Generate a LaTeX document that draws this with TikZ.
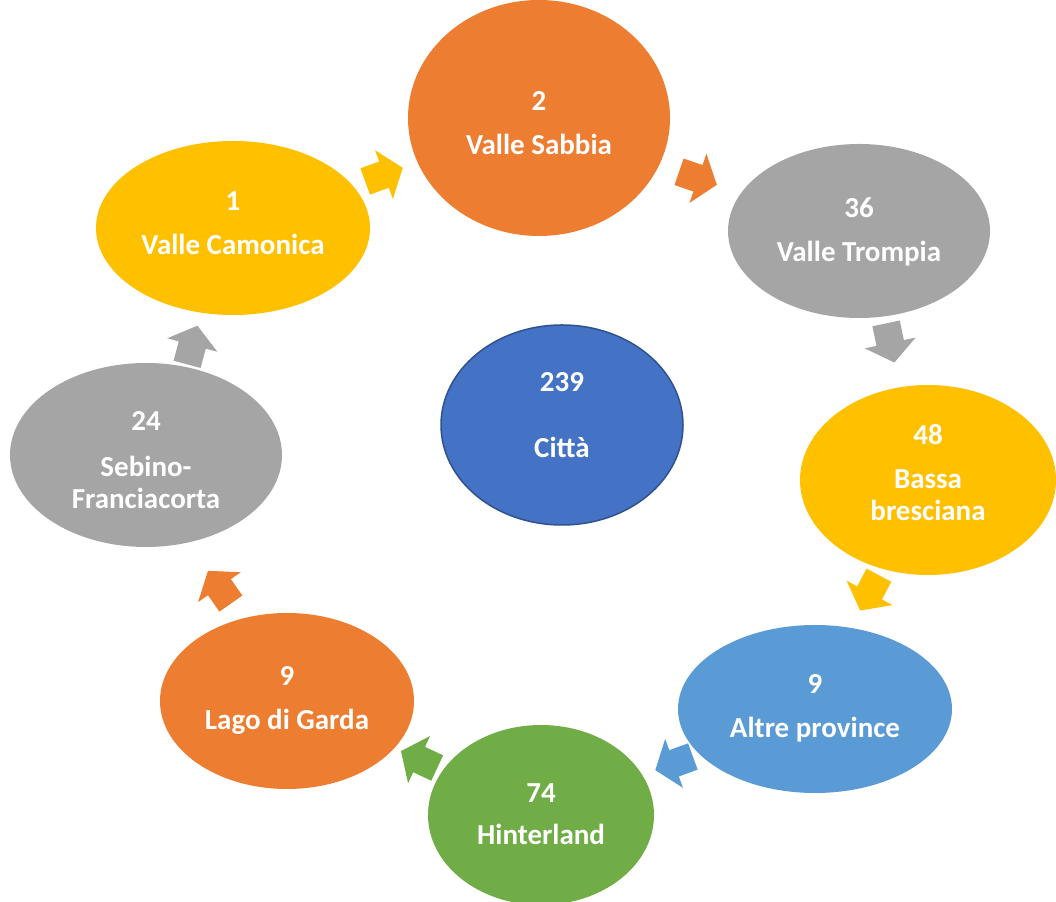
\documentclass[tikz,border=0pt]{standalone}
\usepackage{fontspec}
\setmainfont{Carlito}
\usetikzlibrary{shapes.geometric}
\definecolor{cOrange}{HTML}{ED7D31}
\definecolor{cYellow}{HTML}{FFC000}
\definecolor{cGray}{HTML}{A5A5A5}
\definecolor{cBlue}{HTML}{4472C4}
\definecolor{cBlueEdge}{HTML}{2F528F}
\definecolor{cLight}{HTML}{5B9BD5}
\definecolor{cGreen}{HTML}{70AD47}
\tikzset{
  bubble/.style={ellipse, inner sep=0pt},
  btext/.style={inner sep=0pt, text=white, font=\bfseries\fontsize{29}{32}\selectfont, align=center},
  blockarrow/.pic={\fill (-19,-14) -- (1,-14) -- (1,-26) -- (21,0) -- (1,26) -- (1,14) -- (-19,14) -- cycle;}
}
\begin{document}
\begin{tikzpicture}[x=1pt,y=1pt]
\useasboundingbox (0,0) rectangle (1056,901);
\begin{scope}
\clip (0,0) rectangle (1056,901);
\node[bubble, fill=cYellow, minimum width=274pt, minimum height=174pt] (cam) at (233,673) {};
\node[bubble, fill=cOrange, minimum width=262pt, minimum height=236pt] (sab) at (539,783) {};
\node[bubble, fill=cGray, minimum width=262pt, minimum height=174pt] (tro) at (859,670) {};
\node[bubble, fill=cYellow, minimum width=256pt, minimum height=190pt] (bas) at (928,421) {};
\node[bubble, fill=cLight, minimum width=274pt, minimum height=168pt] (alt) at (815,192) {};
\node[bubble, fill=cGreen, minimum width=226pt, minimum height=180pt] (hin) at (541,86) {};
\node[bubble, fill=cOrange, minimum width=254pt, minimum height=176pt] (lag) at (287,200) {};
\node[bubble, fill=cGray, minimum width=272pt, minimum height=184pt] (seb) at (146,446) {};
\node[bubble, fill=cBlue, draw=cBlueEdge, line width=1.5pt, minimum width=242pt, minimum height=200pt] (cit) at (562,476) {};
\end{scope}
\node[btext] (tcam) at ([yshift=5pt]cam.center) {1\\[12pt]Valle Camonica};
\node[btext] (tsab) at ([yshift=-5pt]sab.center) {2\\[12pt]Valle Sabbia};
\node[btext] (ttro) at ([yshift=-1pt]tro.center) {36\\[12pt]Valle Trompia};
\node[btext] (tbas) at ([yshift=7pt]bas.center) {48\\[12pt]Bassa\\bresciana};
\node[btext] (talt) at ([yshift=1pt]alt.center) {9\\[12pt]Altre province};
\node[btext] (thin) at ([yshift=1pt]hin.center) {74\\[10pt]Hinterland};
\node[btext] (tlag) at ([yshift=1pt]lag.center) {9\\[12pt]Lago di Garda};
\node[btext] (tseb) at ([yshift=-5pt]seb.center) {24\\[14pt]Sebino-\\Franciacorta};
\node[btext] (tcit) at ([yshift=10pt]cit.center) {239\\[34pt]Città};
\pic[fill=cYellow, rotate=20] (a1) at (383,726) {blockarrow};
\pic[fill=cOrange, rotate=-19] (a2) at (697,723) {blockarrow};
\pic[fill=cGray, rotate=-78] (a3) at (890,559) {blockarrow};
\pic[fill=cYellow, rotate=-118] (a4) at (870,309) {blockarrow};
\pic[fill=cLight, rotate=200] (a5) at (675,138) {blockarrow};
\pic[fill=cGreen, rotate=155] (a6) at (420,141) {blockarrow};
\pic[fill=cOrange, rotate=125] (a7) at (220,313) {blockarrow};
\pic[fill=cGray, rotate=75] (a8) at (192,555) {blockarrow};
\end{tikzpicture}
\end{document}
